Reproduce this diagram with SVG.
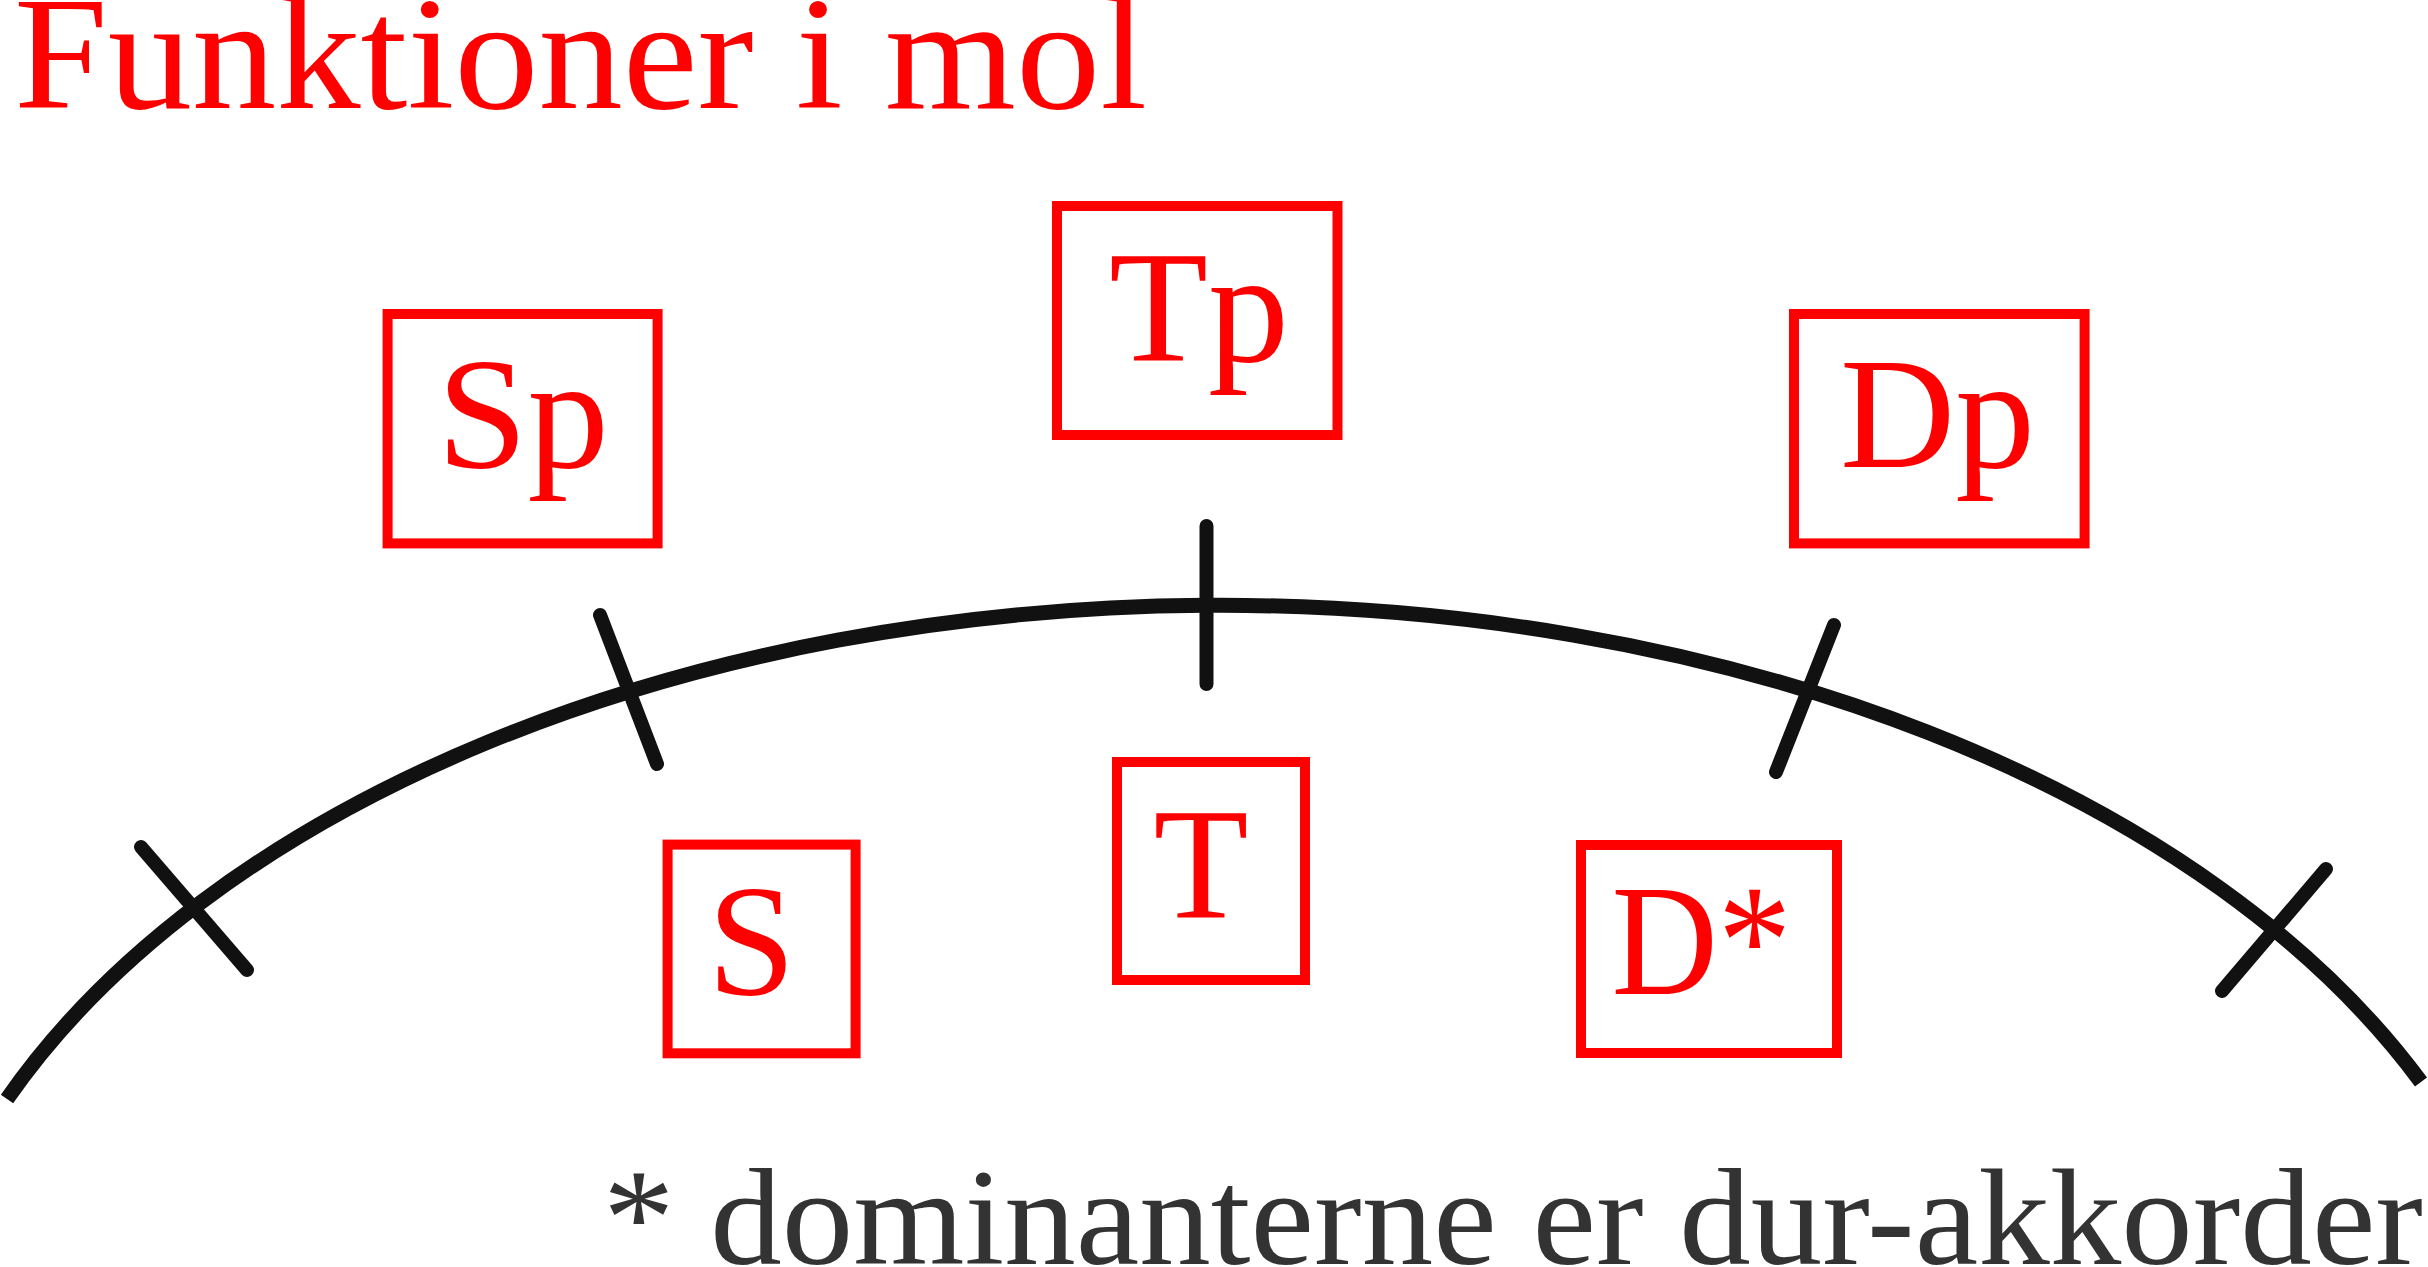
<svg xmlns="http://www.w3.org/2000/svg" width="2428" height="1267" viewBox="0 0 2428 1267">
  <style>
    .box { fill: none; stroke: #ff0000; stroke-width: 10; }
    .lbl { font-family: "Liberation Serif", "DejaVu Serif", serif; font-size: 158px; fill: #ff0000; text-anchor: middle; }
    .arc { fill: none; stroke: #111111; stroke-width: 15; stroke-linecap: butt; }
    .tick { stroke: #111111; stroke-width: 14; stroke-linecap: round; }
    .title { font-family: "Liberation Serif", "DejaVu Serif", serif; font-size: 160px; fill: #ff0000; }
    .note { font-family: "Liberation Serif", "DejaVu Serif", serif; font-size: 138px; fill: #333333; }
  </style>
  <rect x="0" y="0" width="2428" height="1267" fill="#ffffff"/>

  <text class="title" x="14" y="108" textLength="1133" lengthAdjust="spacingAndGlyphs">Funktioner i mol</text>

  <g id="scale">
    <path class="arc" d="M7,1099 A1320,815 0 0 1 2421,1082"/>
    <line class="tick" x1="141" y1="847" x2="247" y2="970"/>
    <line class="tick" x1="600" y1="615" x2="657" y2="764"/>
    <line class="tick" x1="1206.5" y1="526" x2="1206.5" y2="684"/>
    <line class="tick" x1="1834" y1="625" x2="1776" y2="772"/>
    <line class="tick" x1="2326" y1="869" x2="2222" y2="991"/>
  </g>

  <g id="connectors"></g>

  <g id="node-Sp">
    <rect class="box" x="387.6" y="314" width="270" height="229.4"/>
    <text class="lbl" x="523" y="467" textLength="172" lengthAdjust="spacingAndGlyphs">Sp</text>
  </g>
  <g id="node-Tp">
    <rect class="box" x="1057" y="206" width="280.5" height="229"/>
    <text class="lbl" x="1199" y="361" textLength="180" lengthAdjust="spacingAndGlyphs">Tp</text>
  </g>
  <g id="node-Dp">
    <rect class="box" x="1794" y="314" width="290.6" height="229.4"/>
    <text class="lbl" x="1937.5" y="467" textLength="195" lengthAdjust="spacingAndGlyphs">Dp</text>
  </g>
  <g id="node-S">
    <rect class="box" x="667.6" y="844.6" width="188" height="208.7"/>
    <text class="lbl" x="751.5" y="994" textLength="88" lengthAdjust="spacingAndGlyphs">S</text>
  </g>
  <g id="node-T">
    <rect class="box" x="1117" y="762" width="188" height="218"/>
    <text class="lbl" x="1201" y="918" textLength="95" lengthAdjust="spacingAndGlyphs">T</text>
  </g>
  <g id="node-Dstar">
    <rect class="box" x="1581" y="845" width="256" height="208"/>
    <text class="lbl" x="1701.5" y="994" textLength="180" lengthAdjust="spacingAndGlyphs">D*</text>
  </g>

  <text class="note" x="603" y="1264" textLength="1820" lengthAdjust="spacingAndGlyphs">* dominanterne er dur-akkorder</text>
</svg>
